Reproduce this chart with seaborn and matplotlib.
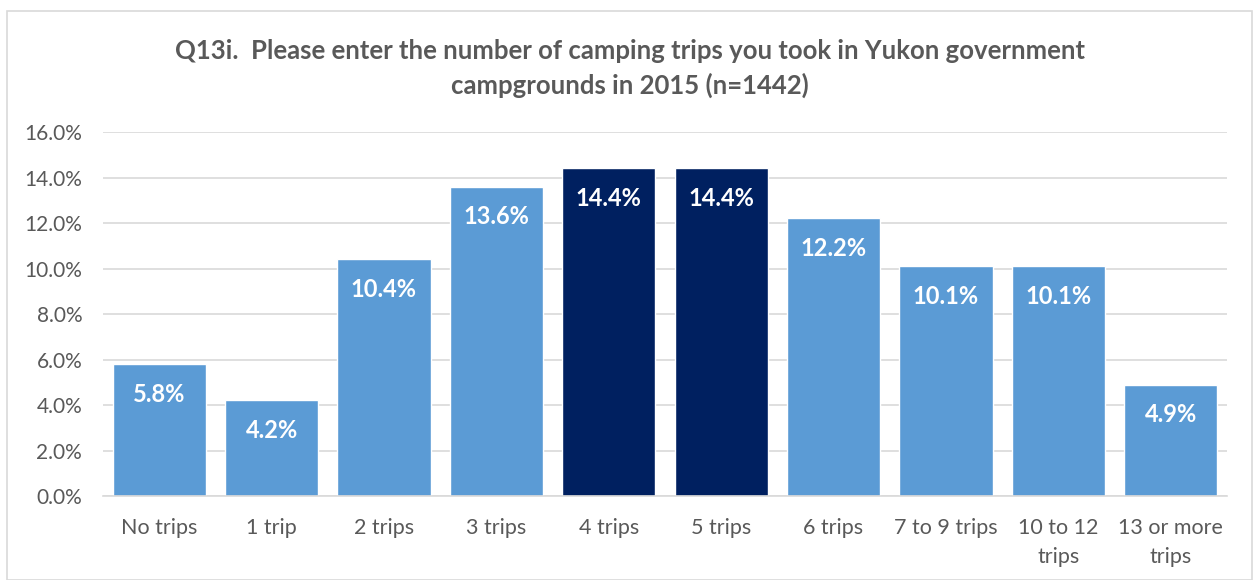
import matplotlib
matplotlib.use("Agg")
import matplotlib.pyplot as plt
import seaborn as sns
import pandas as pd
from matplotlib.patches import Rectangle

categories = ["No trips", "1 trip", "2 trips", "3 trips", "4 trips", "5 trips",
              "6 trips", "7 to 9 trips", "10 to 12\ntrips", "13 or more\ntrips"]
values = [5.8, 4.2, 10.4, 13.6, 14.4, 14.4, 12.2, 10.1, 10.1, 4.9]
highlight = [False, False, False, False, True, True, False, False, False, False]
yticks = [0, 2, 4, 6, 8, 10, 12, 14, 16]

LIGHT = "#5B9BD5"
DARK = "#002060"
GRAY = "#595959"

sns.set_theme(style="white")
plt.rcParams['font.family'] = ['Lato', 'DejaVu Sans']

df = pd.DataFrame({"cat": categories, "val": values,
                   "grp": ["hi" if h else "lo" for h in highlight]})

fig = plt.figure(figsize=(12.53, 5.8), dpi=100)
ax = fig.add_axes([0.0822, 0.1448, 0.897, 0.6276])

sns.barplot(data=df, x="cat", y="val", hue="grp", dodge=False,
            palette={"lo": LIGHT, "hi": DARK}, width=0.83, ax=ax,
            legend=False, saturation=1)

ax.set_ylim(0, 16)
ax.set_xlim(-0.5, len(categories) - 0.5)
ax.set_yticks(yticks)
ax.set_yticklabels([f"{t:.1f}%" for t in yticks], fontsize=15, color=GRAY)
ax.set_xticks(range(len(categories)))
ax.set_xticklabels(categories, fontsize=15.5, color=GRAY, linespacing=1.55)
ax.tick_params(axis='y', length=0, pad=15)
ax.tick_params(axis='x', length=0, pad=16)
ax.set_xlabel("")
ax.set_ylabel("")
ax.yaxis.grid(True, color="#D9D9D9", linewidth=1.2)
ax.set_axisbelow(True)
for s in ["top", "right", "left"]:
    ax.spines[s].set_visible(False)
ax.spines["bottom"].set_color("#D9D9D9")
ax.spines["bottom"].set_linewidth(1.2)

for i, v in enumerate(values):
    ax.annotate(f"{v:.1f}%", xy=(i, v), xytext=(0, -30), textcoords="offset pixels",
                ha="center", va="center",
                color="white", fontsize=17, fontweight="bold")

fig.text(0.503, 0.912, "Q13i.  Please enter the number of camping trips you took in Yukon government",
         ha="center", va="center", fontsize=18.5, fontweight="bold", color=GRAY)
fig.text(0.503, 0.853, "campgrounds in 2015 (n=1442)",
         ha="center", va="center", fontsize=18.5, fontweight="bold", color=GRAY)

fig.patches.append(Rectangle((7 / 1253, 0), 1 - 8 / 1253, 1 - 11 / 580,
                             transform=fig.transFigure, fill=False,
                             edgecolor="#D9D9D9", linewidth=1.2))

fig.savefig("out.png", dpi=100)
